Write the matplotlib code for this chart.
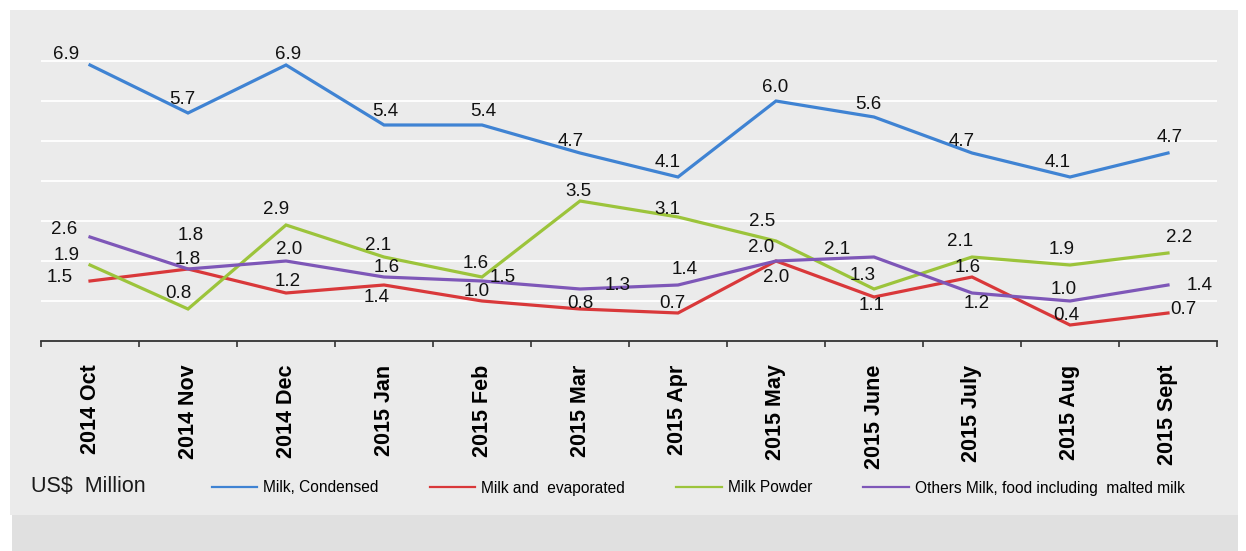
import matplotlib
matplotlib.use('Agg')
import matplotlib.pyplot as plt
from matplotlib.lines import Line2D
from matplotlib.patches import Rectangle
import numpy as np

plt.rcParams['font.family'] = ['Liberation Sans', 'DejaVu Sans']

months = ['2014 Oct', '2014 Nov', '2014 Dec', '2015 Jan', '2015 Feb', '2015 Mar',
          '2015 Apr', '2015 May', '2015 June', '2015 July', '2015 Aug', '2015 Sept']
condensed = [6.9, 5.7, 6.9, 5.4, 5.4, 4.7, 4.1, 6.0, 5.6, 4.7, 4.1, 4.7]
evaporated = [1.5, 1.8, 1.2, 1.4, 1.0, 0.8, 0.7, 2.0, 1.1, 1.6, 0.4, 0.7]
powder = [1.9, 0.8, 2.9, 2.1, 1.6, 3.5, 3.1, 2.5, 1.3, 2.1, 1.9, 2.2]
others = [2.6, 1.8, 2.0, 1.6, 1.5, 1.3, 1.4, 2.0, 2.1, 1.2, 1.0, 1.4]
names = ['Milk, Condensed', 'Milk and  evaporated', 'Milk Powder',
         'Others Milk, food including  malted milk']

# label offsets in pixels (dx, dy) dy positive = up
off_blue = [(-24, 11), (-6, 14), (2, 11), (1, 13), (1, 13), (-9, 12),
            (-10, 15), (-1, 14), (-6, 13), (-10, 12), (-12, 15), (2, 16)]
off_red = [(-30, 3), (0, 10), (2, 12), (-7, -12), (-5, 9), (0, 6),
           (-6, 10), (0, -16), (-2, -8), (-4, 10), (-4, 10), (15, 3)]
off_green = [(-23, 10), (-10, 16), (-10, 15), (-6, 11), (-6, 14), (-2, 10),
             (-11, 8), (-14, 20), (-11, 14), (-12, 15), (-8, 15), (11, 16)]
off_purple = [(-26, 7), (3, 33), (3, 12), (3, 10), (21, 4), (38, 4),
              (7, 16), (-15, 14), (-37, 8), (5, -10), (-6, 12), (32, 0)]

colors = ['#3f83d3', '#d9383a', '#9cc43b', '#7e57b8']

W, H = 1246, 551
fig = plt.figure(figsize=(W / 100, H / 100), dpi=100, facecolor='white')
fig.patches.append(Rectangle((10 / W, 1 - 515 / H), 1228 / W, 505 / H,
                             transform=fig.transFigure, facecolor='#ebebeb',
                             edgecolor='none', zorder=-10))
fig.patches.append(Rectangle((12 / W, 0), 1226 / W, 36 / H,
                             transform=fig.transFigure, facecolor='#e0e0e0',
                             edgecolor='none', zorder=-10))

ax = fig.add_axes([41 / W, 210 / H, 1176 / W, 300 / H])
ax.set_facecolor('none')
x = np.arange(len(months))
series = [condensed, evaporated, powder, others]
offsets = [off_blue, off_red, off_green, off_purple]
for vals, c, offs in zip(series, colors, offsets):
    ax.plot(x, vals, color=c, lw=2.3, solid_joinstyle='miter', zorder=3)
    for xi, v, (dx, dy) in zip(x, vals, offs):
        ax.annotate('%.1f' % v, (xi, v), xytext=(dx, dy), textcoords='offset pixels',
                    ha='center', va='center', fontsize=13.5, color='#111111', zorder=4)

ax.set_xlim(-0.5, 11.5)
ax.set_ylim(0, 7.5)
ax.set_yticks(np.arange(1, 8))
ax.yaxis.grid(True, color='white', lw=1.3)
ax.tick_params(axis='y', length=0, labelleft=False)
for s in ['top', 'right', 'left']:
    ax.spines[s].set_visible(False)
ax.spines['bottom'].set_color('#333333')
ax.spines['bottom'].set_linewidth(1.3)
ax.set_xticks(x)
ax.set_xticklabels(months, rotation=90, fontsize=15.5, fontweight='bold', va='top')
ax.set_xticks(np.arange(-0.5, 12, 1), minor=True)
ax.tick_params(axis='x', which='major', length=0, pad=17)
ax.tick_params(axis='x', which='minor', length=4, width=1.2, color='#333333', direction='out')
ax.set_axisbelow(True)

fig.text(31 / W, 1 - 486 / H, 'US$  Million', fontsize=15.5, va='center', ha='left', color='#1a1a1a')
handles = [Line2D([], [], color=c, lw=1.6) for c in colors]
fig.legend(handles, names, loc='center left', bbox_to_anchor=(212 / W, 1 - 488 / H),
           ncol=4, frameon=False, fontsize=11.2, handlelength=2.9, handletextpad=0.4,
           columnspacing=3.3, borderpad=0, borderaxespad=0)

fig.savefig('out.png', dpi=100, facecolor=fig.get_facecolor())
